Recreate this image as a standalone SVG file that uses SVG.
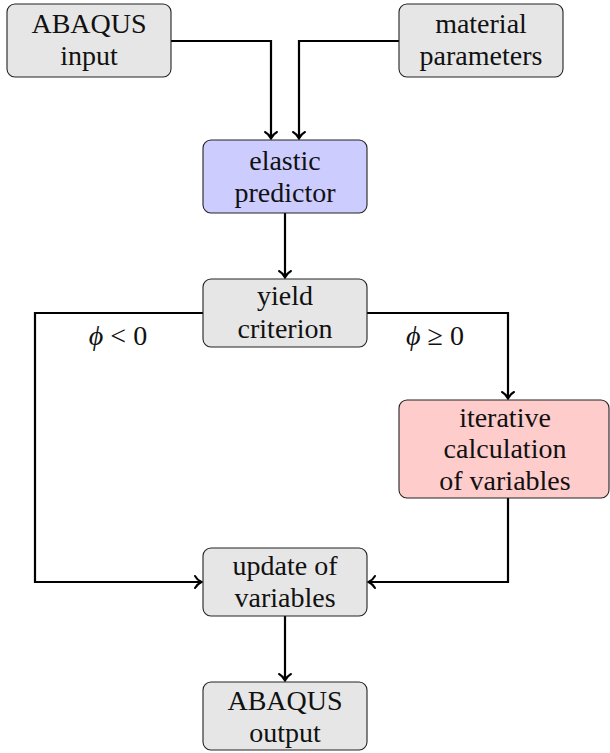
<svg xmlns="http://www.w3.org/2000/svg" width="610" height="753" viewBox="0 0 610 753">
<defs>
<marker id="arr" markerUnits="userSpaceOnUse" viewBox="-10 -8 12 16" refX="0" refY="0" markerWidth="12" markerHeight="16" orient="auto" overflow="visible">
<path d="M-6.5,-6 C-5,-3 -2,-1 0,0 C-2,1 -5,3 -6.5,6" fill="none" stroke="#000" stroke-width="2" stroke-linecap="round"/>
</marker>
</defs>
<g id="connectors" fill="none" stroke="#000" stroke-width="2.2" marker-end="url(#arr)">
<path d="M171,41 H271 V138.5"/>
<path d="M399,41 H299 V138.5"/>
<path d="M285,213 V277.5"/>
<path d="M367,313 H508 V398.5"/>
<path d="M203,313 H35 V582 H201.5"/>
<path d="M508,498 V582 H368.5"/>
<path d="M285,616 V680.5"/>
</g>
<g id="nodes" stroke="#222" stroke-width="1.1">
<g id="abaqus-input">
<rect fill="#e6e6e6" x="7" y="4" width="164" height="73" rx="8"/>
</g>
<g id="material-parameters">
<rect fill="#e6e6e6" x="399" y="4" width="164" height="73" rx="8"/>
</g>
<g id="elastic-predictor">
<rect fill="#ccccff" x="203" y="140" width="164" height="73" rx="8"/>
</g>
<g id="yield-criterion">
<rect fill="#e6e6e6" x="203" y="279" width="164" height="68" rx="8"/>
</g>
<g id="iterative-calculation">
<rect fill="#ffcccc" x="399" y="400" width="210" height="98" rx="8"/>
</g>
<g id="update-of-variables">
<rect fill="#e6e6e6" x="203" y="548" width="164" height="68" rx="8"/>
</g>
<g id="abaqus-output">
<rect fill="#e6e6e6" x="203" y="682" width="164" height="68" rx="8"/>
</g>
</g>
<g id="texts" font-family="'Liberation Serif', serif" font-size="28" fill="#111" text-anchor="middle">
<text x="89" y="33">ABAQUS</text>
<text x="89" y="65">input</text>
<text x="481" y="33">material</text>
<text x="481" y="65">parameters</text>
<text x="285" y="170">elastic</text>
<text x="285" y="202">predictor</text>
<text x="285" y="305">yield</text>
<text x="285" y="338">criterion</text>
<text x="505" y="427">iterative</text>
<text x="505" y="458">calculation</text>
<text x="505" y="490">of variables</text>
<text x="285" y="575">update of</text>
<text x="285" y="607">variables</text>
<text x="285" y="710">ABAQUS</text>
<text x="285" y="742">output</text>
<text x="118" y="345"><tspan font-style="italic">ϕ</tspan> &lt; 0</text>
<text x="435" y="345"><tspan font-style="italic">ϕ</tspan> ≥ 0</text>
</g>
</svg>
